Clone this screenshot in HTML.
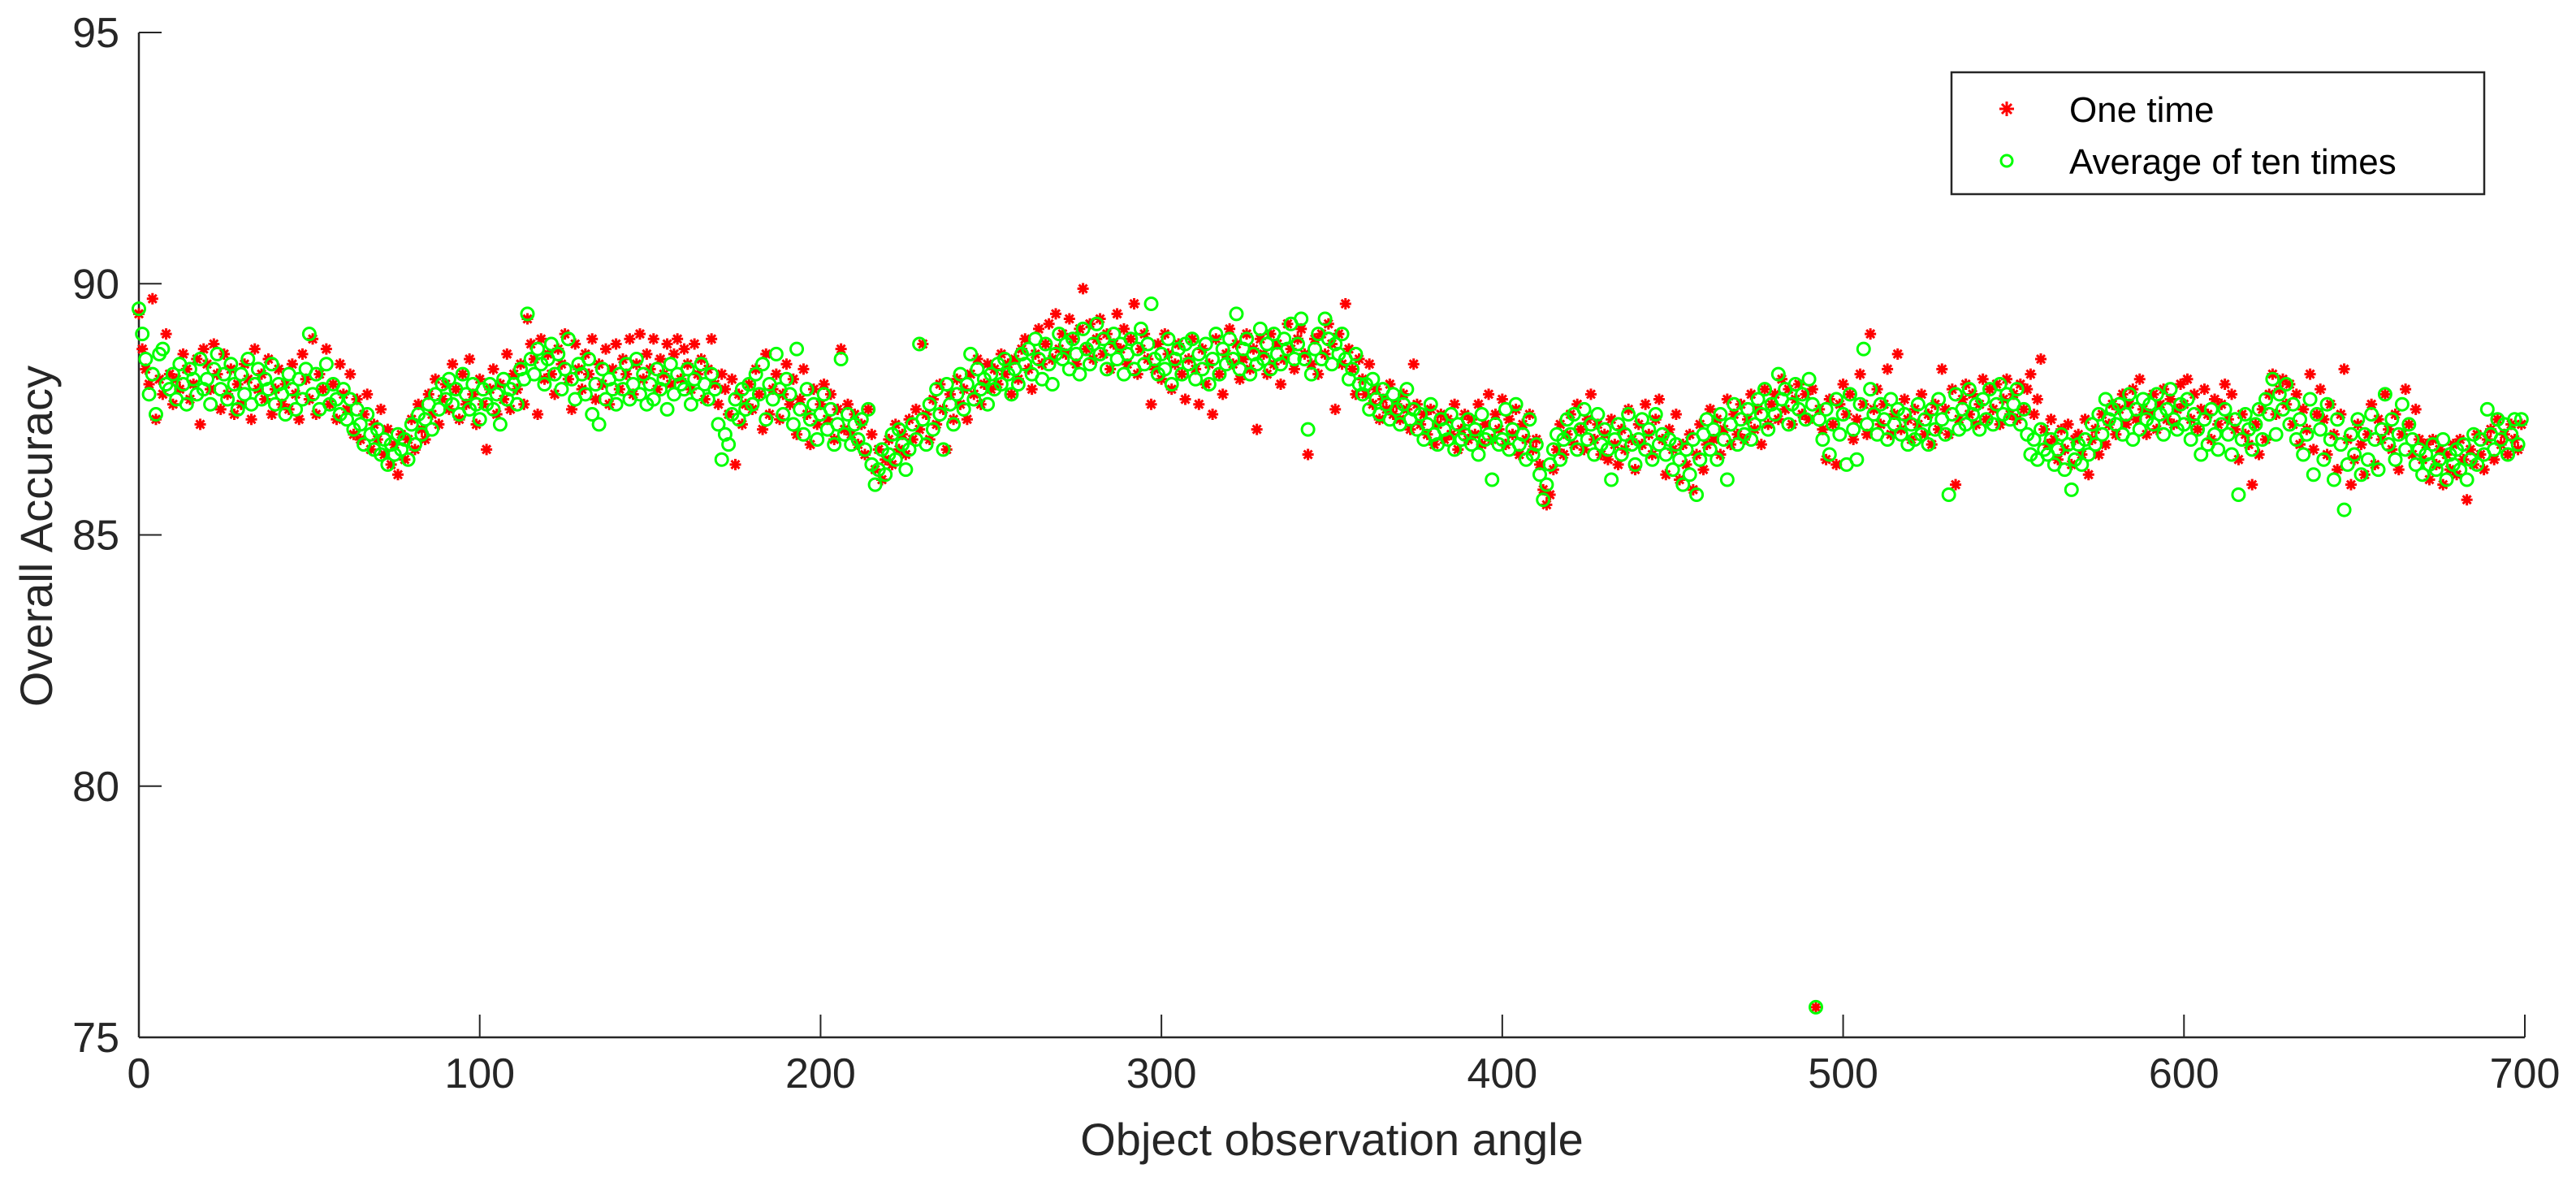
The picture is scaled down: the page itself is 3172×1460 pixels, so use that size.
<!DOCTYPE html>
<html><head><meta charset="utf-8"><style>
html,body{margin:0;padding:0;background:#fff;}
svg{display:block;font-family:"Liberation Sans",Arial,sans-serif;}
</style></head><body>
<svg id="chart" width="3172" height="1460" viewBox="0 0 3172 1460" xmlns="http://www.w3.org/2000/svg">
<rect width="3172" height="1460" fill="#fff"/>
<g id="axes"></g>
<g id="marks"></g>
<g>
<rect x="2403" y="89" width="656" height="150" fill="#fff" stroke="#262626" stroke-width="2.5"/>
<g>
<path d="M2471,125v18M2462,134h18M2465,128l12,12M2477,128l-12,12" stroke="#ff0000" stroke-width="3"/>
<text x="2548" y="150" font-size="44" fill="#000">One time</text>
</g>
<g>
<circle cx="2471" cy="198" r="7" fill="none" stroke="#00ff00" stroke-width="3"/>
<text x="2548" y="214" font-size="44" fill="#000">Average of ten times</text>
</g>
</g>
<text x="1640" y="1422" font-size="56" text-anchor="middle" fill="#262626">Object observation angle</text>
<text transform="translate(64,660) rotate(-90)" font-size="56" text-anchor="middle" fill="#262626">Overall Accuracy</text>
</svg>
<script>
const xTicks=[0,100,200,300,400,500,600,700];
const yTicks=[75,80,85,90,95];
const oneTime=[
89.4,88.7,88.3,88.0,89.7,87.3,88.1,87.8,89.0,88.2,
87.6,88.1,87.9,88.6,88.3,87.7,88.0,88.5,87.2,88.7,
88.4,87.9,88.8,88.2,87.5,88.6,87.8,88.3,87.4,88.0,
87.6,88.4,88.1,87.3,88.7,87.9,88.2,87.7,88.5,87.4,
87.9,88.3,87.6,88.0,87.5,88.4,87.8,87.3,88.6,88.1,
87.7,88.9,87.4,88.2,87.9,88.7,87.6,88.0,87.3,88.4,
87.8,87.5,88.2,87.0,87.7,86.9,87.4,87.8,86.7,87.2,
86.9,87.5,86.6,87.1,86.4,86.8,86.2,87.0,86.5,86.9,
87.3,86.7,87.6,87.1,86.9,87.8,87.4,88.1,87.2,87.7,
88.0,87.5,88.4,87.9,87.3,88.2,87.6,88.5,87.8,87.2,
88.1,87.6,86.7,87.9,88.3,87.4,88.0,87.7,88.6,87.5,
88.2,87.9,88.4,87.6,89.3,88.8,88.5,87.4,88.9,88.1,
88.6,88.2,87.8,88.7,88.4,89.0,88.1,87.5,88.8,88.3,
87.9,88.6,88.2,88.9,87.7,88.4,88.0,88.7,87.6,88.3,
88.8,87.9,88.5,88.2,88.9,87.8,88.4,89.0,88.1,88.6,
88.3,88.9,87.9,88.5,88.2,88.8,88.0,88.6,88.9,88.1,
88.7,88.4,87.9,88.8,88.2,88.5,87.7,88.3,88.9,88.0,
87.6,88.2,87.9,87.4,88.1,86.4,87.8,87.2,87.6,88.0,
87.5,88.3,87.8,87.1,88.6,87.4,87.9,88.2,87.3,87.8,
88.4,87.6,88.1,87.0,87.7,88.3,87.4,86.8,87.9,87.2,
87.6,88.0,87.3,87.8,86.9,87.5,88.7,87.1,87.6,87.0,
87.4,86.8,87.2,86.6,87.5,87.0,86.3,86.7,86.1,86.5,
86.9,86.4,87.2,86.7,87.0,86.6,87.3,86.9,87.5,87.1,
88.8,87.4,86.9,87.7,87.2,88.0,87.5,86.7,87.8,87.3,
88.1,87.6,87.9,87.3,88.2,87.8,88.5,87.6,88.0,88.4,
87.9,88.3,88.0,88.6,88.2,88.4,87.8,88.5,88.1,88.7,
88.9,88.3,87.9,88.6,89.1,88.4,88.8,89.2,88.5,89.4,
88.7,89.0,88.6,89.3,88.9,88.4,89.1,89.9,88.7,89.2,
88.5,88.9,89.3,88.6,89.0,88.3,88.8,89.4,88.7,89.1,
88.4,88.9,89.6,88.2,88.7,89.0,88.5,87.6,88.3,88.8,
88.1,89.0,88.6,87.9,88.4,88.8,88.2,87.7,88.5,88.9,
88.3,87.6,88.7,88.0,88.4,87.4,88.9,88.2,87.8,88.6,
89.1,88.4,88.8,88.1,88.5,89.0,88.3,88.7,87.1,88.9,
88.6,88.2,89.0,88.4,88.8,88.0,88.5,89.2,88.7,88.3,
88.9,89.1,88.6,86.6,88.4,88.9,88.2,89.0,88.6,89.2,
88.8,87.5,89.0,88.4,89.6,88.7,88.3,87.8,88.5,88.1,
87.8,88.4,87.6,87.9,87.3,87.7,87.5,88.0,87.4,87.6,
87.3,87.8,87.5,87.1,88.4,87.6,87.2,87.4,87.0,87.5,
86.8,87.2,87.4,86.9,87.3,87.0,87.6,86.7,87.1,87.4,
86.9,87.3,87.0,87.6,86.8,87.2,87.8,86.9,87.4,87.1,
87.7,86.8,87.3,87.0,87.5,86.6,87.2,86.9,87.4,86.7,
86.9,86.4,85.9,85.6,85.8,86.3,86.7,87.2,86.6,87.0,
87.4,86.8,87.6,87.1,86.7,87.3,87.8,86.9,87.2,86.6,
87.0,86.5,87.3,86.8,86.4,87.1,86.7,87.5,86.9,86.3,
87.2,86.8,87.6,87.0,86.6,87.3,87.7,86.9,86.2,87.1,
86.7,87.4,86.1,86.8,86.4,87.0,85.9,86.6,87.2,86.3,
86.8,87.5,86.9,87.3,86.6,87.1,87.7,86.8,87.4,87.0,
87.6,86.9,87.3,87.8,87.1,87.5,86.8,87.9,87.2,87.6,
87.8,87.3,88.1,87.5,87.9,87.2,87.7,88.0,87.4,87.8,
87.3,87.9,75.6,87.5,87.1,86.5,87.7,87.2,86.4,87.6,
88.0,87.4,87.8,86.9,87.3,88.2,87.6,87.0,89.0,87.5,
87.9,87.2,87.6,88.3,87.0,87.4,88.6,87.1,87.7,87.3,
86.9,87.5,87.2,87.8,87.0,87.4,86.8,87.6,87.1,88.3,
87.5,87.0,87.9,86.0,87.3,87.7,88.0,87.4,87.8,87.2,
87.6,88.1,87.3,87.9,87.5,88.0,87.2,87.7,88.1,87.4,
87.8,87.3,88.0,87.5,87.9,88.2,87.4,87.7,88.5,87.1,
86.8,87.3,86.9,86.5,87.1,86.7,87.2,86.4,86.9,87.0,
86.6,87.3,86.2,86.9,87.1,86.6,87.4,86.8,87.2,87.6,
87.0,87.5,87.8,87.2,87.6,87.9,87.3,88.1,87.5,87.0,
87.4,87.8,87.1,87.6,87.9,87.3,87.7,87.2,87.5,88.0,
87.6,88.1,87.3,87.8,87.1,87.5,87.9,87.4,86.9,87.7,
87.2,87.6,88.0,87.3,87.8,87.1,86.5,87.4,87.0,86.8,
86.0,87.2,86.6,87.5,86.9,87.8,88.2,87.4,87.9,88.1,
87.6,88.0,87.2,87.8,86.8,87.5,87.1,88.2,86.7,87.4,
87.9,87.3,86.6,87.6,87.0,86.3,87.4,88.3,86.9,86.0,
86.5,87.2,86.8,86.2,87.0,87.6,86.4,87.3,86.9,87.8,
87.1,86.7,87.4,86.3,87.0,87.9,87.2,86.6,87.5,86.9,
86.5,86.8,86.1,86.9,86.4,86.7,86.0,86.6,86.3,86.8,
86.2,86.9,86.5,85.7,86.7,86.4,87.0,86.6,86.3,86.9,
87.1,86.5,87.3,86.8,87.0,86.6,87.2,86.9,86.7,87.2];
const averageTen=[
89.5,89.0,88.5,87.8,88.2,87.4,88.6,88.7,88.0,87.9,
88.2,87.7,88.4,88.0,87.6,88.3,88.1,87.8,88.5,87.9,
88.1,87.6,88.3,88.6,87.9,88.2,87.7,88.4,88.0,87.5,
88.2,87.8,88.5,87.6,88.0,88.3,87.7,88.1,87.9,88.4,
87.6,88.0,87.8,87.4,88.2,87.9,87.5,88.1,87.7,88.3,
89.0,87.8,88.2,87.5,87.9,88.4,87.6,88.0,87.7,87.4,
87.9,87.3,87.7,87.1,87.5,87.2,86.8,87.4,87.0,86.7,
87.1,86.6,86.9,86.4,86.8,86.6,87.0,86.7,86.9,86.5,
87.2,86.8,87.4,87.0,87.3,87.6,87.1,87.8,87.5,88.0,
87.7,88.1,87.6,87.9,87.4,88.2,87.8,87.5,88.0,87.6,
87.3,87.9,87.6,88.0,87.5,87.8,87.2,88.1,87.7,87.9,
88.0,87.6,88.3,88.1,89.4,88.5,88.2,88.7,88.4,88.0,
88.5,88.8,88.2,88.6,87.9,88.3,88.9,88.1,87.7,88.4,
88.2,87.8,88.5,87.4,88.0,87.2,88.3,87.7,88.1,87.9,
87.6,88.2,87.9,88.4,87.7,88.0,88.5,87.8,88.2,87.6,
88.0,87.7,88.3,87.9,88.1,87.5,88.4,87.8,88.2,88.0,
87.9,88.3,87.6,88.1,87.8,88.4,88.0,87.7,88.2,87.9,
87.2,86.5,87.0,86.8,87.4,87.7,87.3,87.9,87.5,88.0,
87.6,88.2,87.8,88.4,87.3,88.0,87.7,88.6,87.9,87.4,
88.1,87.8,87.2,88.7,87.5,87.0,87.9,87.3,87.6,86.9,
87.4,87.8,87.1,87.5,86.8,87.2,88.5,87.0,87.4,86.8,
87.2,86.9,87.3,86.7,87.5,86.4,86.0,86.3,86.7,86.2,
86.6,87.0,86.5,87.1,86.8,86.3,86.7,87.2,86.9,88.8,
87.3,86.8,87.6,87.1,87.9,87.4,86.7,88.0,87.6,87.2,
87.8,88.2,87.5,88.0,88.6,87.7,88.3,87.9,88.1,87.6,
88.2,87.9,88.4,88.0,88.5,88.2,87.8,88.3,88.0,88.6,
88.4,88.7,88.2,88.9,88.5,88.1,88.8,88.4,88.0,88.6,
89.0,88.5,88.8,88.3,88.9,88.6,88.2,89.1,88.7,88.4,
88.8,89.2,88.6,88.9,88.3,88.7,89.0,88.5,88.8,88.2,
88.6,88.9,88.3,88.7,89.1,88.4,88.8,89.6,88.5,88.2,
88.6,88.3,88.9,88.0,88.5,88.7,88.2,88.8,88.4,88.9,
88.1,88.6,88.3,88.8,88.0,88.5,89.0,88.2,88.7,88.4,
88.9,88.5,89.4,88.3,88.7,88.9,88.2,88.6,88.4,89.1,
88.5,88.8,88.3,89.0,88.6,88.4,88.9,88.7,89.2,88.5,
88.8,89.3,88.5,87.1,88.2,88.7,89.0,88.5,89.3,88.9,
88.4,88.8,88.6,89.0,88.5,88.1,88.3,88.6,88.0,87.8,
88.0,87.5,88.1,87.7,87.4,87.9,87.6,87.3,87.8,87.5,
87.2,87.6,87.9,87.3,87.5,87.1,87.4,86.9,87.2,87.6,
87.0,86.8,87.3,87.1,86.9,87.4,86.7,87.2,86.9,87.0,
87.3,86.8,87.1,86.6,87.4,86.9,87.0,86.1,87.2,86.8,
86.9,87.5,86.7,87.1,87.6,86.8,87.0,86.5,87.3,86.6,
86.8,86.2,85.7,86.0,86.4,86.7,87.0,86.5,86.9,87.3,
87.0,87.4,86.7,87.1,87.5,86.9,87.2,86.6,87.4,86.8,
87.1,86.7,86.1,86.9,87.2,86.6,87.0,87.4,86.8,86.4,
86.9,87.3,86.7,87.1,86.5,87.4,86.8,87.0,86.6,86.9,
86.3,86.8,86.5,86.0,86.7,86.2,86.9,85.8,86.5,87.0,
87.3,86.7,87.1,86.5,87.4,86.9,86.1,87.2,87.6,86.8,
87.3,87.0,87.5,86.9,87.2,87.7,87.4,87.9,87.1,87.6,
87.4,88.2,87.7,87.9,87.2,87.6,88.0,87.5,87.8,87.3,
88.1,87.6,75.6,87.3,86.9,87.5,86.6,87.2,87.7,87.0,
87.4,86.4,87.8,87.1,86.5,87.6,88.7,87.2,87.9,87.4,
87.0,87.6,87.3,86.9,87.7,87.2,87.5,87.0,87.4,86.8,
87.2,86.9,87.6,87.0,87.3,86.8,87.5,87.1,87.7,87.3,
87.0,85.8,87.4,87.8,87.1,87.5,87.2,87.9,87.4,87.6,
87.1,87.7,87.3,87.9,87.2,87.6,88.0,87.4,87.8,87.3,
87.6,87.9,87.2,87.5,87.0,86.6,86.9,86.5,87.1,86.7,
86.6,86.9,86.4,86.7,87.0,86.3,86.8,85.9,86.5,86.8,
86.4,86.9,86.6,87.2,86.8,87.4,87.0,87.7,87.3,87.5,
87.2,87.6,87.0,87.4,87.8,86.9,87.5,87.1,87.7,87.3,
87.6,87.2,87.8,87.4,87.0,87.5,87.9,87.3,87.1,87.6,
87.2,87.7,86.9,87.4,87.1,86.6,87.3,86.8,87.5,87.0,
86.7,87.2,87.5,87.0,86.6,87.3,85.8,86.9,87.4,87.1,
86.7,87.2,87.5,86.9,87.7,87.4,88.1,87.0,87.8,87.5,
88.0,87.2,87.6,86.9,87.3,86.6,87.0,87.7,86.2,87.4,
87.1,86.5,87.6,86.9,86.1,87.3,86.8,85.5,86.4,87.0,
86.6,87.3,86.2,87.0,86.5,87.4,86.9,86.3,87.1,87.8,
86.8,87.3,86.5,87.0,87.6,86.7,87.2,86.9,86.4,86.7,
86.2,86.6,86.4,86.8,86.3,86.5,86.9,86.1,86.6,86.4,
86.7,86.3,86.8,86.1,86.5,87.0,86.4,86.9,86.6,87.5,
87.0,86.7,87.3,86.9,87.2,86.6,87.0,87.3,86.8,87.3];

const NS="http://www.w3.org/2000/svg";
const X0=171,X1=3109,Y0=1277,Y1=40,XMIN=0,XMAX=700,YMIN=75,YMAX=95;
function xs(v){return X0+(v-XMIN)/(XMAX-XMIN)*(X1-X0);}
function ys(v){return Y0-(v-YMIN)/(YMAX-YMIN)*(Y0-Y1);}
function mk(tag,attrs){const e=document.createElementNS(NS,tag);for(const k in attrs)e.setAttribute(k,attrs[k]);return e;}
const axes=document.getElementById('axes');
const marks=document.getElementById('marks');

const yAxis=mk('line',{x1:X0,y1:Y0,x2:X0,y2:Y1,stroke:'#262626','stroke-width':2.5});


axes.appendChild(yAxis);
const xAxis=mk('line',{x1:X0,y1:Y0,x2:X1,y2:Y0,stroke:'#262626','stroke-width':2.5});


axes.appendChild(xAxis);

xTicks.forEach(t=>{
  const x=xs(t);
  const tk=mk('line',{x1:x,y1:Y0,x2:x,y2:Y0-28,stroke:'#262626','stroke-width':2});
  
  
  axes.appendChild(tk);
  const lb=mk('text',{x:x,y:Y0+62,'font-size':52,'text-anchor':'middle',fill:'#262626'});
  lb.textContent=t;
  
  
  axes.appendChild(lb);
});
yTicks.forEach(t=>{
  const y=ys(t);
  const tk=mk('line',{x1:X0,y1:y,x2:X0+28,y2:y,stroke:'#262626','stroke-width':2});
  
  
  axes.appendChild(tk);
  const lb=mk('text',{x:X0-24,y:y+18,'font-size':52,'text-anchor':'end',fill:'#262626'});
  lb.textContent=t;
  
  
  axes.appendChild(lb);
});

const redG=mk('g',{stroke:'#ff0000','stroke-width':3,fill:'none'});


marks.appendChild(redG);
oneTime.forEach((v,i)=>{
  const x=xs(i),y=ys(v),a=7,b=5;
  const p=mk('path',{d:`M${x},${y-a}v${2*a}M${x-a},${y}h${2*a}M${x-b},${y-b}l${2*b},${2*b}M${x+b},${y-b}l${-2*b},${2*b}`});
  
  
  redG.appendChild(p);
});
const greenG=mk('g',{stroke:'#00ff00','stroke-width':3,fill:'none'});


marks.appendChild(greenG);
averageTen.forEach((v,i)=>{
  const c=mk('circle',{cx:xs(i),cy:ys(v),r:7.5});
  
  
  greenG.appendChild(c);
});
</script>
</body></html>
